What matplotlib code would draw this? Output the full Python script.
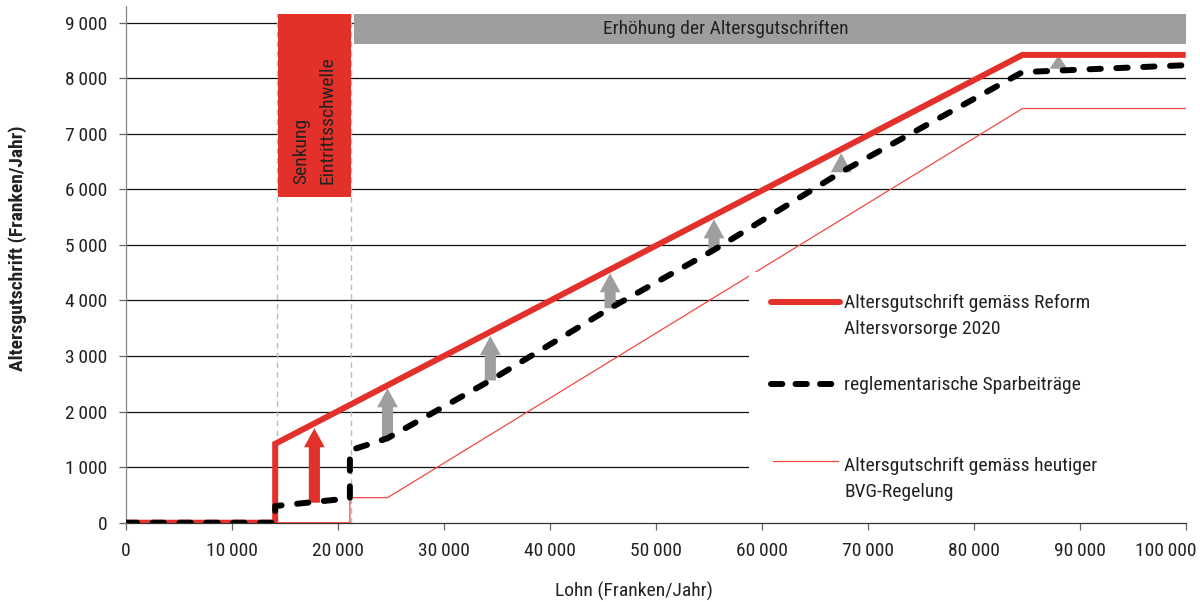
import matplotlib
matplotlib.use("Agg")
import matplotlib.pyplot as plt
from matplotlib import font_manager as fm
from matplotlib.patches import Rectangle
from matplotlib.lines import Line2D
from matplotlib.transforms import ScaledTranslation

# pick a narrow font if one is installed
names = {f.name for f in fm.fontManager.ttflist}
STRETCH = 'normal'
MAIN = 'DejaVu Sans'
for cand in ['Liberation Sans Narrow', 'Roboto Condensed', 'Open Sans Condensed', 'Noto Sans Condensed']:
    if cand in names:
        MAIN = cand
        break
else:
    cond = [f for f in fm.fontManager.ttflist
            if f.name == 'DejaVu Sans' and 'Condensed' in f.fname]
    if cond:
        STRETCH = 'condensed'
plt.rcParams['font.family'] = [MAIN, 'DejaVu Sans']
plt.rcParams['font.stretch'] = STRETCH

# ---------------- data ----------------
reform_x = [0, 14100, 14100, 84600, 100000]
reform_y = [0, 0, 1420, 8420, 8420]

regl_x = [0, 14100, 14100, 21150, 21150, 24700, 34400, 45700, 55500, 67500, 84600, 100000]
regl_y = [0, 0, 300, 440, 1300, 1520, 2560, 3860, 4910, 6310, 8110, 8235]

bvg_x = [0, 21150, 21150, 24700, 84600, 100000]
bvg_y = [0, 0, 450, 450, 7455, 7455]

arrow_x = [24700, 34400, 45700, 55500, 67500]
arrow_base = [1520, 2560, 3860, 4910, 6310]
arrow_tip = [2420, 3360, 4490, 5460, 6650]

red_arrow_x = 17800
red_arrow_base = 360
red_arrow_tip = 1700

tri_x = 88000
tri_base = 8170
tri_tip = 8410

threshold_lines = [14250, 21250]
red_box = (14400, 21250, 5870, 9150)
gray_box = (21550, 100000, 8610, 9150)

x_ticks = list(range(0, 100001, 10000))
y_ticks = list(range(0, 9001, 1000))

legend_labels = ["Altersgutschrift gemäss Reform\nAltersvorsorge 2020",
                 "reglementarische Sparbeiträge",
                 "Altersgutschrift gemäss heutiger\nBVG-Regelung"]

RED = '#E4302A'
THIN_RED = '#EE4A40'
GRAY = '#9E9E9E'
TXT = '#222222'
FS = 14

def fmt(v):
    return f"{v:,}".replace(",", "\u2009")

# ---------------- figure ----------------
fig = plt.figure(figsize=(12, 6.02), dpi=100)
ax = fig.add_axes([125.7/1200, (602-522.7)/602, (1185.7-125.7)/1200, (522.7-6)/602])
ax.set_xlim(0, 100000)
ax.set_ylim(0, 9300)

# gridlines
for v in y_ticks[1:]:
    ax.axhline(v, color='#111111', lw=0.9, zorder=1)

# threshold dashed verticals
for xv in threshold_lines:
    ax.plot([xv, xv], [0, 9150], color='#BBBBBB', lw=1.0, ls=(0, (4, 3)), zorder=1)

# banners
rx0, rx1, ry0, ry1 = red_box
ax.add_patch(Rectangle((rx0, ry0), rx1 - rx0, ry1 - ry0, color=RED, zorder=3, lw=0))
ax.text((rx0 + rx1) / 2, ry0 + 230, "Senkung\nEintrittsschwelle", rotation=90,
        ha='center', va='bottom', multialignment='left', fontsize=FS, color=TXT,
        zorder=4, linespacing=1.6)
gx0, gx1, gy0, gy1 = gray_box
ax.add_patch(Rectangle((gx0, gy0), gx1 - gx0, gy1 - gy0, color=GRAY, zorder=3, lw=0))
ax.text(56600, (gy0 + gy1) / 2, "Erhöhung der Altersgutschriften", ha='center',
        va='center', fontsize=FS, color=TXT, zorder=4)

# lines
ax.plot(bvg_x, bvg_y, color=THIN_RED, lw=0.9, zorder=4)
ax.plot(reform_x, reform_y, color=RED, lw=4.3, solid_capstyle='butt',
        solid_joinstyle='miter', zorder=6)
ax.plot(regl_x, regl_y, color='black', lw=4.3, ls=(0, (1.9, 2.6)),
        dash_capstyle='round', dash_joinstyle='round', zorder=7)

# arrows
astyle = "simple,head_length=1.37,head_width=1.5,tail_width=0.8"
for xv, b, t in zip(arrow_x, arrow_base, arrow_tip):
    ax.annotate('', xy=(xv, t), xytext=(xv, b),
                arrowprops=dict(arrowstyle=astyle, mutation_scale=10, fc=GRAY,
                                ec='none', shrinkA=0, shrinkB=0), zorder=5)
ax.annotate('', xy=(red_arrow_x, red_arrow_tip), xytext=(red_arrow_x, red_arrow_base),
            arrowprops=dict(arrowstyle=astyle, mutation_scale=10, fc=RED,
                            ec='none', shrinkA=0, shrinkB=0), zorder=5)
ax.fill([tri_x - 850, tri_x + 850, tri_x], [tri_base, tri_base, tri_tip],
        color=GRAY, lw=0, zorder=5)

# legend (manual)
ax.add_patch(Rectangle((0.588, 0.0195), 0.42, 0.466, transform=ax.transAxes,
                       color='white', zorder=4.5, lw=0, clip_on=False))
hx0, hx1, tx = 0.609, 0.674, 0.678
def ay(py):
    return (522.7 - py) / (522.7 - 6)
ax.add_line(Line2D([hx0, hx1], [ay(302), ay(302)], transform=ax.transAxes,
                   color=RED, lw=4.3, solid_capstyle='round', zorder=8))
ax.add_line(Line2D([hx0, hx1], [ay(384), ay(384)], transform=ax.transAxes,
                   color='black', lw=4.3, ls=(0, (1.9, 2.2)), dash_capstyle='round', zorder=8))
ax.add_line(Line2D([hx0 + 0.002, hx1 - 0.002], [ay(461), ay(461)], transform=ax.transAxes,
                   color=THIN_RED, lw=0.9, zorder=8))
for py, lab in zip([306, 388, 469], legend_labels):
    ax.text(tx, ay(py - 12), lab, transform=ax.transAxes, ha='left', va='top',
            fontsize=FS, color=TXT, linespacing=1.58, zorder=8)

# axes style
for s in ['top', 'right']:
    ax.spines[s].set_visible(False)
ax.spines['left'].set_color('#888888')
ax.spines['left'].set_linewidth(0.9)
ax.spines['bottom'].set_color('#333333')
ax.spines['bottom'].set_linewidth(0.9)
ax.spines['bottom'].set_zorder(2)

ax.set_xticks(x_ticks)
ax.set_xticklabels([fmt(v) for v in x_ticks])
ax.set_yticks(y_ticks)
ax.set_yticklabels([fmt(v) for v in y_ticks])
ax.tick_params(axis='both', direction='out', length=5, width=0.9, color='#666666',
               labelsize=FS, labelcolor=TXT)
ax.tick_params(axis='x', pad=9)
ax.tick_params(axis='y', pad=8)

# keep the last x tick label inside the figure
last = ax.get_xticklabels()[-1]
last.set_horizontalalignment('right')
last.set_transform(last.get_transform() + ScaledTranslation(11/100, 0, fig.dpi_scale_trans))

fig.text(18/1200, 1 - 248/602, "Altersgutschrift (Franken/Jahr)", rotation=90,
         ha='center', va='center', fontsize=FS, fontweight='bold', color=TXT)
fig.text(634/1200, 1 - 591/602, "Lohn (Franken/Jahr)", ha='center', va='center',
         fontsize=FS, color=TXT)

fig.savefig("out.png", dpi=100)
